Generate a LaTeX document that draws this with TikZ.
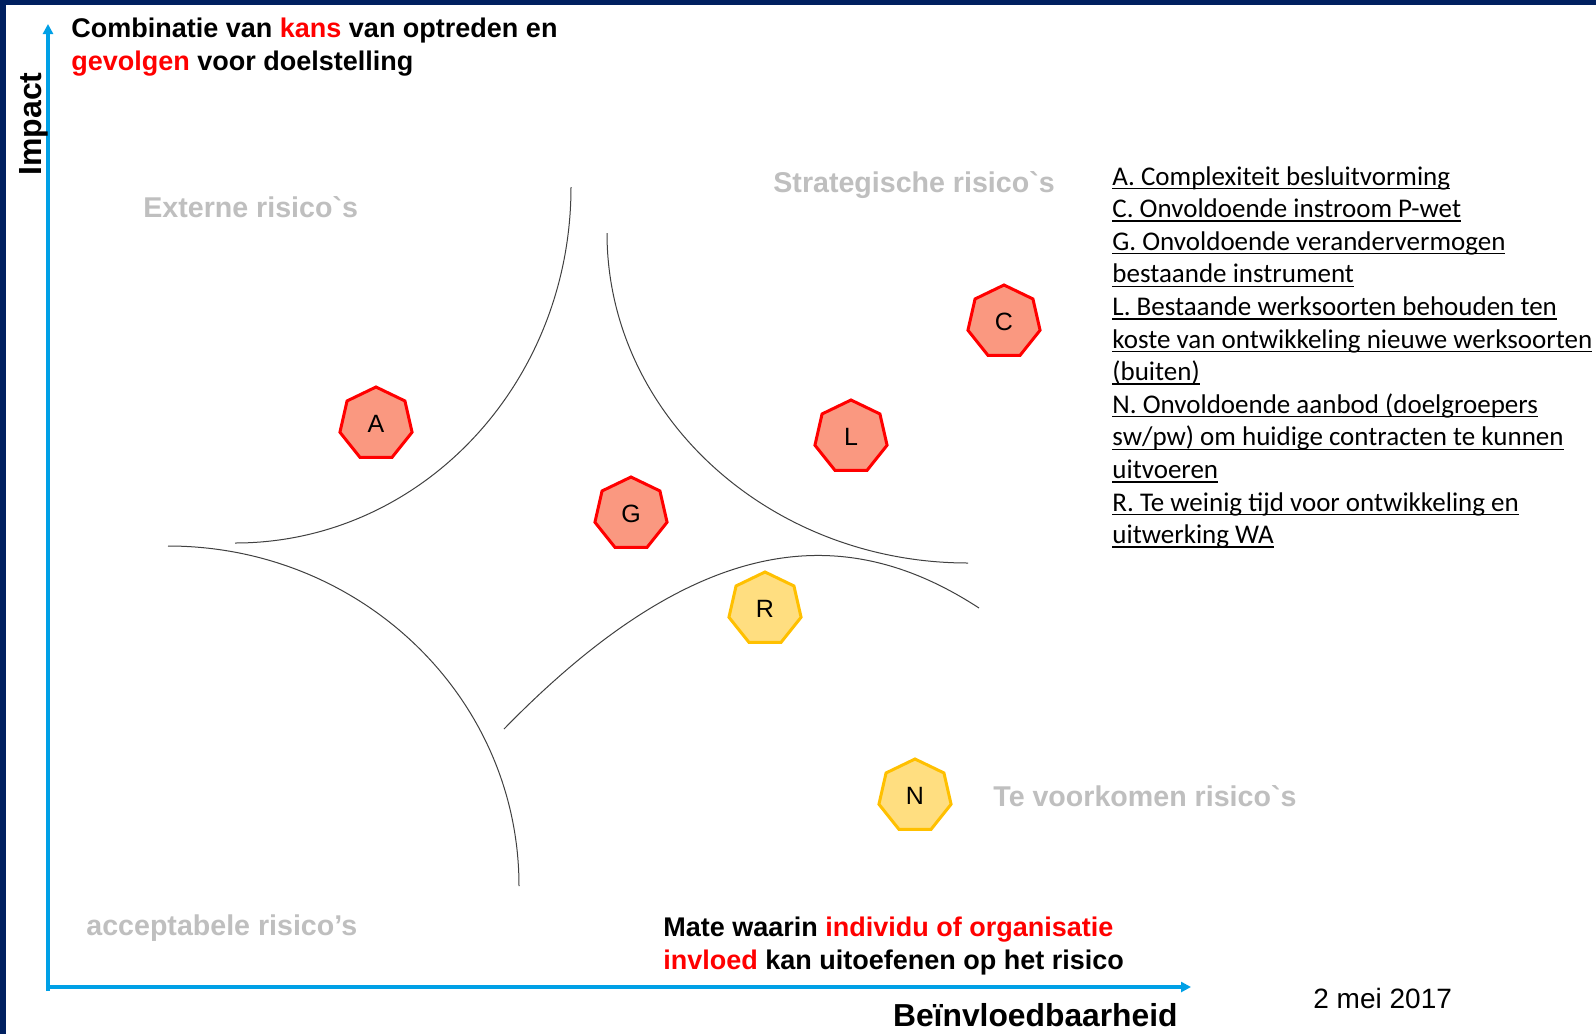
\documentclass[tikz,border=0pt]{standalone}
\usepackage{fontspec}
\setmainfont{Liberation Sans}[Ligatures=TeXOff]
\newfontfamily\listfont{Carlito}
\usetikzlibrary{shapes.geometric,arrows.meta,positioning}

\definecolor{framenavy}{RGB}{0,32,96}
\definecolor{axisblue}{RGB}{0,160,230}
\definecolor{riskred}{RGB}{255,0,0}
\definecolor{riskredfill}{RGB}{250,152,128}
\definecolor{riskamber}{RGB}{255,192,0}
\definecolor{riskamberfill}{RGB}{255,222,128}
\definecolor{zonegray}{RGB}{191,191,191}

% underlined legend line
\newlength\ulwidth
\newcommand\riskline[1]{\settowidth{\ulwidth}{#1}\rlap{\rule[-2pt]{\ulwidth}{0.7pt}}#1}

\begin{document}
\begin{tikzpicture}[
    x=0.5pt, y=-0.5pt,
    risk/.style={regular polygon, regular polygon sides=7, minimum size=37pt, inner sep=0pt, line width=1.5pt, font=\fontsize{12.5}{15}\selectfont},
    high/.style={risk, draw=riskred, fill=riskredfill},
    medium/.style={risk, draw=riskamber, fill=riskamberfill},
    zone/.style={inner sep=0pt, anchor=base west, text=zonegray, font=\bfseries\fontsize{14.3}{17}\selectfont},
    caption/.style={inner sep=0pt, anchor=north west, align=left, font=\bfseries\fontsize{13.5}{16.3}\selectfont},
    boundary/.style={black!75, line width=0.5pt},
    axis/.style={axisblue, line width=1.6pt, -{Triangle[length=5pt,width=5pt]}}
]

% Frame
\useasboundingbox (0,0) rectangle (1596,1034);
\fill[white] (0,0) rectangle (1596,1034);
\fill[framenavy] (0,0) rectangle (1596,5);
\fill[framenavy] (0,0) rectangle (6,1034);

% Axes
\coordinate (origin) at (48,991);
\coordinate (corner) at (47,987);
\coordinate (ytip) at (48,24);
\coordinate (xtip) at (1191,987);
\draw[axis] (origin) -- (ytip);
\draw[axis] (corner) -- (xtip);

\node[rotate=90, anchor=base, inner sep=0pt, font=\bfseries\fontsize{16}{19}\selectfont] (ylabel) at (41,124) {Impact};
\node[inner sep=0pt, anchor=base east, font=\bfseries\fontsize{15.9}{19}\selectfont] (xlabel) at (1178,1026) {Beïnvloedbaarheid};

% Axis descriptions
\node[caption] (impactnote) at (71,18) {Combinatie van \textcolor{red}{kans} van optreden en\\\textcolor{red}{gevolgen} voor doelstelling};
\node[caption] (influencenote) at (663,917) {Mate waarin \textcolor{red}{individu of organisatie}\\\textcolor{red}{invloed} kan uitoefenen op het risico};

% Zone boundaries
\draw[boundary] (571,187) .. controls (571,384) and (421,543) .. (235,543);
\draw[boundary] (607,233) .. controls (607,415) and (769,563) .. (968,563);
\draw[boundary] (504,729) .. controls (700,528) and (847,522) .. (979,608);
\draw[boundary] (168,546) .. controls (362,546) and (519,698) .. (519,886);

% Zones
\node[zone] (external) at (143,217) {Externe risico`s};
\node[zone] (strategic) at (773,192) {Strategische risico`s};
\node[zone] (preventable) at (993,806) {Te voorkomen risico`s};
\node[zone] (acceptable) at (86,935) {acceptabele risico’s};

% Risks
\node[high] (A) at (376,424) {A};
\node[high] (G) at (631,514) {G};
\node[high] (L) at (851,437) {L};
\node[high] (C) at (1004,322) {C};
\node[medium] (R) at (765,609) {R};
\node[medium] (N) at (915,796) {N};

% Legend
\node[anchor=north west, inner sep=0pt, align=left, font=\listfont\fontsize{13.5}{16.3}\selectfont] (risklist) at (1112,166) {%
\riskline{A. Complexiteit besluitvorming}\\
\riskline{C. Onvoldoende instroom P-wet}\\
\riskline{G. Onvoldoende verandervermogen}\\
\riskline{bestaande instrument}\\
\riskline{L. Bestaande werksoorten behouden ten}\\
\riskline{koste van ontwikkeling nieuwe werksoorten}\\
\riskline{(buiten)}\\
\riskline{N. Onvoldoende aanbod (doelgroepers}\\
\riskline{sw/pw) om huidige contracten te kunnen}\\
\riskline{uitvoeren}\\
\riskline{R. Te weinig tijd voor ontwikkeling en}\\
\riskline{uitwerking WA}};

% Date
\node[inner sep=0pt, anchor=base west, font=\fontsize{14}{17}\selectfont] (date) at (1313,1008) {2 mei 2017};

\end{tikzpicture}
\end{document}
